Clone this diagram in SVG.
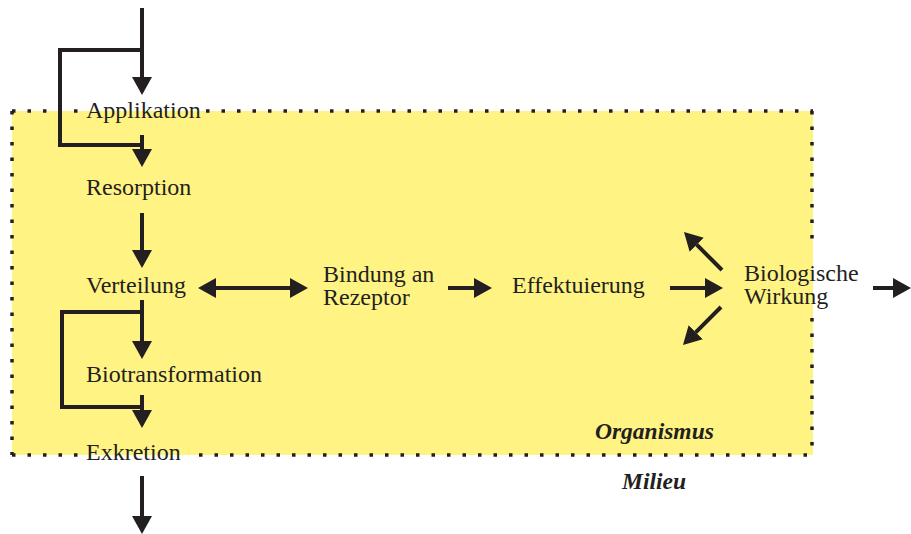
<svg xmlns="http://www.w3.org/2000/svg" width="911" height="534" viewBox="0 0 911 534">
<style>
.t{font-family:"Liberation Serif","Times New Roman",serif;font-size:24px;fill:#231f20}
.bi{font-family:"Liberation Serif","Times New Roman",serif;font-size:23.5px;font-weight:bold;font-style:italic;fill:#231f20}
.ln{fill:none;stroke:#231f20;stroke-width:4}
.dot{fill:none;stroke:#231f20;stroke-width:3.5;stroke-dasharray:3.5 12}
</style>
<defs>
<marker id="ah" viewBox="0 0 18 20" refX="0" refY="10" markerWidth="18" markerHeight="20" markerUnits="userSpaceOnUse" orient="auto-start-reverse">
<path d="M0,0 L18,10 L0,20 Z" fill="#231f20"/>
</marker>
</defs>
<g id="organismus-area">
<rect x="12" y="111" width="801" height="344" fill="#fff383"/>
<path class="dot" d="M12,111 H82 M206,111 H813"/>
<path class="dot" d="M12,111 V455"/>
<path class="dot" d="M12,455 H78 M199,455 H813"/>
<path class="dot" d="M812,111 V246 M812,318 V455"/>
<text class="bi" x="595" y="439">Organismus</text>
</g>
<g id="milieu"><text class="bi" x="622" y="489">Milieu</text></g>
<g id="applikation"><text class="t" x="86" y="118">Applikation</text></g>
<g id="resorption"><text class="t" x="86" y="195">Resorption</text></g>
<g id="verteilung"><text class="t" x="86" y="293">Verteilung</text></g>
<g id="biotransformation"><text class="t" x="86" y="382">Biotransformation</text></g>
<g id="exkretion"><text class="t" x="86" y="460">Exkretion</text></g>
<g id="bindung"><text class="t" x="323" y="282">Bindung an</text><text class="t" x="323" y="305">Rezeptor</text></g>
<g id="effektuierung"><text class="t" x="512" y="293">Effektuierung</text></g>
<g id="wirkung"><text class="t" x="744" y="281">Biologische</text><text class="t" x="744" y="304">Wirkung</text></g>
<g id="connectors">
<path class="ln" d="M142,8 V77" marker-end="url(#ah)"/>
<path class="ln" d="M142,50 H60 V145 H142"/>
<path class="ln" d="M142,135 V149" marker-end="url(#ah)"/>
<path class="ln" d="M142,213 V250" marker-end="url(#ah)"/>
<path class="ln" d="M142,300 V341" marker-end="url(#ah)"/>
<path class="ln" d="M142,312 H62 V407 H142"/>
<path class="ln" d="M142,395 V410" marker-end="url(#ah)"/>
<path class="ln" d="M142,476 V516" marker-end="url(#ah)"/>
<path class="ln" d="M216,288 H290" marker-start="url(#ah)" marker-end="url(#ah)"/>
<path class="ln" d="M448,288 H474" marker-end="url(#ah)"/>
<path class="ln" d="M670,288 H705" marker-end="url(#ah)"/>
<path class="ln" d="M722,270 L696.7,244.7" marker-end="url(#ah)"/>
<path class="ln" d="M721,307 L695.7,332.3" marker-end="url(#ah)"/>
<path class="ln" d="M873,288 H893" marker-end="url(#ah)"/>
</g>
</svg>
